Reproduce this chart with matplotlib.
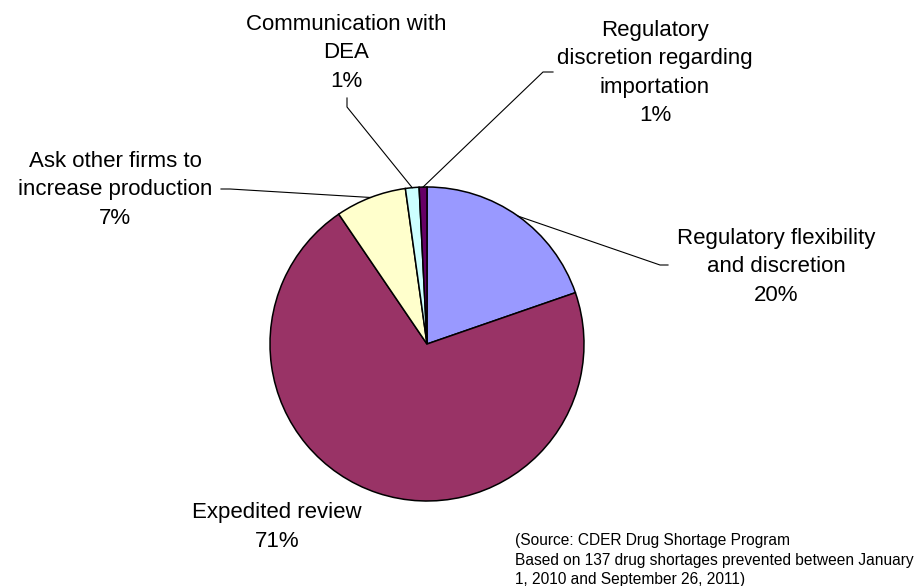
import matplotlib
matplotlib.use("Agg")
import matplotlib.pyplot as plt
import numpy as np

# shares of the 137 prevented shortages, clockwise from 12 o'clock
labels = ['Regulatory flexibility\nand discretion',
          'Expedited review',
          'Ask other firms to\nincrease production',
          'Communication with\nDEA',
          'Regulatory\ndiscretion regarding\nimportation']
values = [19.7, 70.8, 7.3, 1.4, 0.8]
colors = ['#9999FF', '#993366', '#FFFFCC', '#CCFFFF', '#660066']
pct = ['{:.0f}%'.format(v) for v in values]

source = ('(Source: CDER Drug Shortage Program\n'
          'Based on 137 drug shortages prevented between January\n'
          '1, 2010 and September 26, 2011)')

W, H = 924, 586
plt.rcParams['font.family'] = ['Liberation Sans', 'DejaVu Sans']

fig = plt.figure(figsize=(W / 100, H / 100), dpi=100)
ax = fig.add_axes([0, 0, 1, 1])

def Y(y):
    # pixel row from top -> data y
    return H - y

cx, cy, r = 427, 344, 157
wedges, _ = ax.pie(values, colors=colors, startangle=90, counterclock=False,
                   center=(cx, Y(cy)), radius=r, frame=True,
                   wedgeprops=dict(edgecolor='black', linewidth=1.1))
ax.set_xlim(0, W)
ax.set_ylim(0, H)
ax.set_aspect('equal')
ax.axis('off')

def edge(w):
    a = np.deg2rad((w.theta1 + w.theta2) / 2)
    return cx + r * np.cos(a), Y(cy) + r * np.sin(a)

fs = 16
# label block centres (px) and the bend point of each leader
spots = [(776, 267), (277, 527), (115, 190), (346, 53), (655, 73)]
bends = [[(668, 265), (660, 265)],
         None,
         [(221, 189), (230, 189)],
         [(347, 98), (347, 107)],
         [(553, 72), (543, 72)]]

for i, w in enumerate(wedges):
    tx, ty = spots[i]
    ax.text(tx, Y(ty), labels[i] + '\n' + pct[i], ha='center', va='center',
            fontsize=fs, linespacing=1.45, color='black')
    if bends[i] is not None:
        ex, ey = edge(w)
        xs = [p[0] for p in bends[i]] + [ex]
        ys = [Y(p[1]) for p in bends[i]] + [ey]
        ax.plot(xs, ys, color='black', linewidth=0.8)

ax.text(515, Y(560), source, ha='left', va='center', fontsize=11.2,
        linespacing=1.4, color='black')

fig.savefig('out.png', dpi=100, facecolor='white')
